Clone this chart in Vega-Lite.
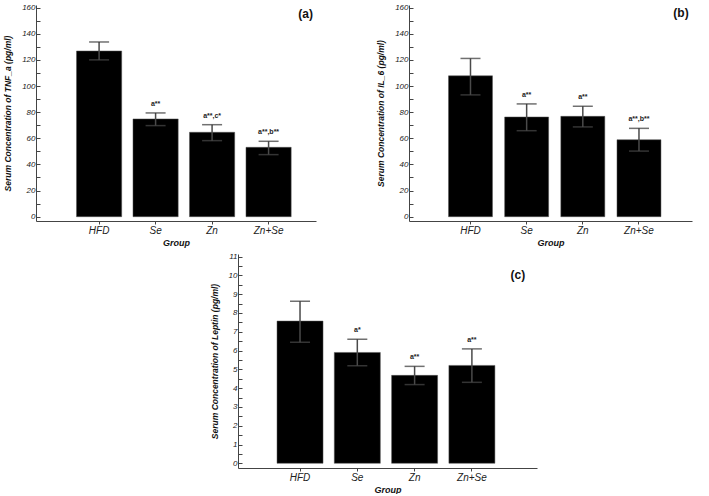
{
  "$schema": "https://vega.github.io/schema/vega-lite/v6.json",
  "background": "white",
  "padding": {"left": 3, "top": 3, "right": 5, "bottom": 0},
  "config": {
    "view": {"stroke": null},
    "font": "Liberation Sans",
    "axis": {
      "domainColor": "#444",
      "tickColor": "#444",
      "labelColor": "#222",
      "titleColor": "#111",
      "labelFont": "Liberation Sans",
      "titleFont": "Liberation Sans",
      "labelFontStyle": "italic",
      "titleFontStyle": "italic",
      "titleFontWeight": "bold",
      "labelOverlap": false,
      "grid": false
    },
    "axisX": {"labelFontSize": 10, "labelAngle": 0, "tickSize": 3, "labelPadding": 1, "titleFontSize": 9, "titlePadding": 3},
    "axisY": {"labelFontSize": 8, "tickSize": -4, "labelPadding": 5, "titleFontSize": 8.5, "titlePadding": 9, "labelOverlap": false}
  },
  "spacing": 5,
  "vconcat": [
    {
      "hconcat": [
        {
          "width": 280,
          "height": 216,
          "resolve": {"axis": {"y": "independent"}},
          "data": {"values": [
            {"group": "HFD", "mean": 126.8, "lo": 120.0, "hi": 133.7, "label": ""},
            {"group": "Se", "mean": 74.8, "lo": 69.7, "hi": 79.4, "label": "a**"},
            {"group": "Zn", "mean": 64.6, "lo": 58.2, "hi": 70.4, "label": "a**,c*"},
            {"group": "Zn+Se", "mean": 53.1, "lo": 47.5, "hi": 57.7, "label": "a**,b**"}
          ]},
          "encoding": {
            "x": {"field": "group", "type": "nominal", "sort": ["HFD", "Se", "Zn", "Zn+Se"],
                  "scale": {"paddingInner": 0.2, "paddingOuter": 0.578, "align": 0.62},
                  "axis": {"title": "Group"}}
          },
          "layer": [
            {"mark": {"type": "bar", "color": "black", "stroke": "#555", "strokeWidth": 0.5},
             "encoding": {"y": {"field": "mean", "type": "quantitative", "scale": {"domain": [-3.3, 162], "nice": false, "zero": false},
                                "axis": {"title": "Serum Concentration of TNF_a (pg/ml)", "values": [0,10,20,30,40,50,60,70,80,90,100,110,120,130,140,150,160],
                                         "labelOverlap": false, "labelBound": false,
                                         "labelExpr": "datum.value % 20 == 0 ? datum.label : ''"}},
                          "y2": {"datum": 0}}},
            {"mark": {"type": "rule", "color": "#4a4a4a", "strokeWidth": 1.5},
             "encoding": {"y": {"field": "lo", "type": "quantitative", "axis": null}, "y2": {"field": "hi"}}},
            {"mark": {"type": "tick", "color": "#4a4a4a", "thickness": 1.5, "size": 20},
             "encoding": {"y": {"field": "lo", "type": "quantitative", "axis": null}}},
            {"mark": {"type": "tick", "color": "#333", "thickness": 1.5, "size": 20},
             "encoding": {"y": {"field": "hi", "type": "quantitative", "axis": null}}},
            {"mark": {"type": "text", "dy": -9, "fontSize": 7, "fontWeight": "bold", "color": "#222"},
             "encoding": {"y": {"field": "hi", "type": "quantitative", "axis": null}, "text": {"field": "label"}}},
            {"data": {"values": [{"t": "(a)"}]},
             "mark": {"type": "text", "fontSize": 12, "fontWeight": "bold", "color": "#111", "dx": 37, "baseline": "middle"},
             "encoding": {"x": {"datum": "Zn+Se"}, "y": {"datum": 155, "axis": null}, "text": {"field": "t"}}}
          ]
        },
        {
          "width": 283,
          "height": 216,
          "resolve": {"axis": {"y": "independent"}},
          "data": {"values": [
            {"group": "HFD", "mean": 107.8, "lo": 93.2, "hi": 121.1, "label": ""},
            {"group": "Se", "mean": 76.3, "lo": 65.8, "hi": 86.3, "label": "a**"},
            {"group": "Zn", "mean": 76.8, "lo": 68.7, "hi": 84.5, "label": "a**"},
            {"group": "Zn+Se", "mean": 58.9, "lo": 50.2, "hi": 67.6, "label": "a**,b**"}
          ]},
          "encoding": {
            "x": {"field": "group", "type": "nominal", "sort": ["HFD", "Se", "Zn", "Zn+Se"],
                  "scale": {"paddingInner": 0.217, "paddingOuter": 0.628, "align": 0.56},
                  "axis": {"title": "Group"}}
          },
          "layer": [
            {"mark": {"type": "bar", "color": "black", "stroke": "#555", "strokeWidth": 0.5},
             "encoding": {"y": {"field": "mean", "type": "quantitative", "scale": {"domain": [-3.3, 162], "nice": false, "zero": false},
                                "axis": {"title": "Serum Concentration of IL_6 (pg/ml)", "values": [0,10,20,30,40,50,60,70,80,90,100,110,120,130,140,150,160],
                                         "labelOverlap": false, "labelBound": false,
                                         "labelExpr": "datum.value % 20 == 0 ? datum.label : ''"}},
                          "y2": {"datum": 0}}},
            {"mark": {"type": "rule", "color": "#4a4a4a", "strokeWidth": 1.5},
             "encoding": {"y": {"field": "lo", "type": "quantitative", "axis": null}, "y2": {"field": "hi"}}},
            {"mark": {"type": "tick", "color": "#4a4a4a", "thickness": 1.5, "size": 20},
             "encoding": {"y": {"field": "lo", "type": "quantitative", "axis": null}}},
            {"mark": {"type": "tick", "color": "#333", "thickness": 1.5, "size": 20},
             "encoding": {"y": {"field": "hi", "type": "quantitative", "axis": null}}},
            {"mark": {"type": "text", "dy": -9, "fontSize": 7, "fontWeight": "bold", "color": "#222"},
             "encoding": {"y": {"field": "hi", "type": "quantitative", "axis": null}, "text": {"field": "label"}}},
            {"data": {"values": [{"t": "(b)"}]},
             "mark": {"type": "text", "fontSize": 12, "fontWeight": "bold", "color": "#111", "dx": 42, "baseline": "middle"},
             "encoding": {"x": {"datum": "Zn+Se"}, "y": {"datum": 156, "axis": null}, "text": {"field": "t"}}}
          ]
        }
      ],
      "spacing": 60
    },
    {
      "hconcat": [
        {
          "width": 174,
          "height": 10,
          "data": {"values": [{"k": 1}]},
          "mark": {"type": "point", "opacity": 0},
          "encoding": {}
        },
        {
          "width": 299,
          "height": 214,
          "resolve": {"axis": {"y": "independent"}},
          "data": {"values": [
            {"group": "HFD", "mean": 7.57, "lo": 6.44, "hi": 8.63, "label": ""},
            {"group": "Se", "mean": 5.9, "lo": 5.19, "hi": 6.6, "label": "a*"},
            {"group": "Zn", "mean": 4.68, "lo": 4.19, "hi": 5.16, "label": "a**"},
            {"group": "Zn+Se", "mean": 5.21, "lo": 4.31, "hi": 6.09, "label": "a**"}
          ]},
          "encoding": {
            "x": {"field": "group", "type": "nominal", "sort": ["HFD", "Se", "Zn", "Zn+Se"],
                  "scale": {"paddingInner": 0.197, "paddingOuter": 0.708, "align": 0.481},
                  "axis": {"title": "Group"}}
          },
          "layer": [
            {"mark": {"type": "bar", "color": "black", "stroke": "#555", "strokeWidth": 0.5},
             "encoding": {"y": {"field": "mean", "type": "quantitative", "scale": {"domain": [-0.25, 11.14], "nice": false, "zero": false},
                                "axis": {"title": "Serum Concentration of Leptin (pg/ml)", "values": [0,0.5,1,1.5,2,2.5,3,3.5,4,4.5,5,5.5,6,6.5,7,7.5,8,8.5,9,9.5,10,10.5,11],
                                         "labelOverlap": false, "labelBound": false,
                                         "labelExpr": "datum.value % 1 == 0 ? format(datum.value, 'd') : ''"}},
                          "y2": {"datum": 0}}},
            {"mark": {"type": "rule", "color": "#4a4a4a", "strokeWidth": 1.5},
             "encoding": {"y": {"field": "lo", "type": "quantitative", "axis": null}, "y2": {"field": "hi"}}},
            {"mark": {"type": "tick", "color": "#4a4a4a", "thickness": 1.5, "size": 20},
             "encoding": {"y": {"field": "lo", "type": "quantitative", "axis": null}}},
            {"mark": {"type": "tick", "color": "#333", "thickness": 1.5, "size": 20},
             "encoding": {"y": {"field": "hi", "type": "quantitative", "axis": null}}},
            {"mark": {"type": "text", "dy": -9, "fontSize": 7, "fontWeight": "bold", "color": "#222"},
             "encoding": {"y": {"field": "hi", "type": "quantitative", "axis": null}, "text": {"field": "label"}}},
            {"data": {"values": [{"t": "(c)"}]},
             "mark": {"type": "text", "fontSize": 12, "fontWeight": "bold", "color": "#111", "dx": 46, "baseline": "middle"},
             "encoding": {"x": {"datum": "Zn+Se"}, "y": {"datum": 10.03, "axis": null}, "text": {"field": "t"}}}
          ]
        }
      ],
      "spacing": 0
    }
  ]
}
